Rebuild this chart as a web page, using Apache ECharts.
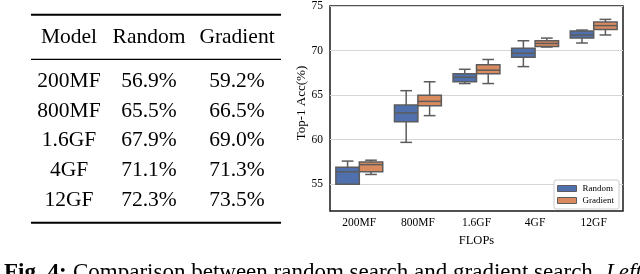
<!DOCTYPE html>
<html><head><meta charset="utf-8">
<script src="https://cdn.jsdelivr.net/npm/echarts@6/dist/echarts.min.js"></script>
<style>html,body{margin:0;padding:0;background:#fff}#c{width:640px;height:274px}</style>
</head><body><div id="c"></div>
<script>
// ---- data ----
const categories = ['200MF', '800MF', '1.6GF', '4GF', '12GF'];
// [min, q1, median, q3, max]
const randomBox = [
  [55.0, 55.0, 56.4, 56.9, 57.6],
  [59.7, 62.0, 63.0, 63.9, 65.5],
  [66.3, 66.5, 67.0, 67.4, 67.9],
  [68.2, 69.25, 69.7, 70.25, 71.1],
  [70.85, 71.4, 71.75, 72.2, 72.3]
];
const gradientBox = [
  [56.1, 56.4, 57.2, 57.5, 57.7],
  [62.7, 63.8, 64.3, 65.0, 66.5],
  [66.3, 67.4, 67.8, 68.4, 69.0],
  [70.4, 70.45, 70.8, 71.1, 71.4],
  [71.75, 72.35, 72.8, 73.2, 73.5]
];
const yTicks = [55, 60, 65, 70, 75];
const seriesNames = ['Random', 'Gradient'];
const tableHeader = ['Model', 'Random', 'Gradient'];
const tableModels = ['200MF', '800MF', '1.6GF', '4GF', '12GF'];
const tableRandom = ['56.9%', '65.5%', '67.9%', '71.1%', '72.3%'];
const tableGradient = ['59.2%', '66.5%', '69.0%', '71.3%', '73.5%'];
const captionBold = 'Fig. 4:';
const captionText = 'Comparison between random search and gradient search.';
const captionItalic = 'Left:';

// ---- style ----
const serif = "'Liberation Serif','Times New Roman',serif";
const colors = ['#4f70ad', '#d98a5e'];
const lineGrey = '#5c5c5c';

const chart = echarts.init(document.getElementById('c'), null, {renderer: 'canvas'});

function makeRender(sign, color) {
  return function (params, api) {
    const idx = api.value(0);
    const band = api.size([1, 0])[0];
    const w = band * 0.4;
    const base = api.coord([idx, api.value(3)]);
    const cx = base[0] + sign * w / 2;
    const yMin = api.coord([idx, api.value(1)])[1];
    const yQ1 = api.coord([idx, api.value(2)])[1];
    const yMed = api.coord([idx, api.value(3)])[1];
    const yQ3 = api.coord([idx, api.value(4)])[1];
    const yMax = api.coord([idx, api.value(5)])[1];
    const ls = {stroke: lineGrey, lineWidth: 1.5};
    return {
      type: 'group',
      children: [
        {type: 'line', shape: {x1: cx, y1: yQ3, x2: cx, y2: yMax}, style: ls},
        {type: 'line', shape: {x1: cx, y1: yQ1, x2: cx, y2: yMin}, style: ls},
        {type: 'line', shape: {x1: cx - w / 4, y1: yMax, x2: cx + w / 4, y2: yMax}, style: ls},
        {type: 'line', shape: {x1: cx - w / 4, y1: yMin, x2: cx + w / 4, y2: yMin}, style: ls},
        {type: 'rect', shape: {x: cx - w / 2, y: yQ3, width: w, height: yQ1 - yQ3},
          style: {fill: color, stroke: lineGrey, lineWidth: 1.5}},
        {type: 'line', shape: {x1: cx - w / 2, y1: yMed, x2: cx + w / 2, y2: yMed}, style: ls}
      ]
    };
  };
}

// ---- table & caption graphics ----
const graphics = [];
const tX1 = 31, tX2 = 281;
graphics.push({type: 'line', shape: {x1: tX1, y1: 14.7, x2: tX2, y2: 14.7}, style: {stroke: '#000', lineWidth: 2}});
graphics.push({type: 'line', shape: {x1: tX1, y1: 59.3, x2: tX2, y2: 59.3}, style: {stroke: '#000', lineWidth: 1.3}});
graphics.push({type: 'line', shape: {x1: tX1, y1: 222.7, x2: tX2, y2: 222.7}, style: {stroke: '#000', lineWidth: 2}});
const colX = [69, 149, 237];
const tFont = '21.5px ' + serif;
tableHeader.forEach((h, i) => {
  graphics.push({type: 'text', x: colX[i], y: 37.7,
    style: {text: h, font: tFont, fill: '#000', align: 'center', verticalAlign: 'middle'}});
});
const rowY0 = 81, rowStep = 29.9;
tableModels.forEach((m, r) => {
  const cells = [m, tableRandom[r], tableGradient[r]];
  cells.forEach((t, i) => {
    graphics.push({type: 'text', x: colX[i], y: rowY0 + r * rowStep,
      style: {text: t, font: tFont, fill: '#000', align: 'center', verticalAlign: 'middle'}});
  });
});
const cFontSize = 23;
const capY = 273;
graphics.push({type: 'text', x: 4, y: capY,
  style: {text: captionBold, font: 'bold ' + cFontSize + 'px ' + serif, fill: '#000', align: 'left', verticalAlign: 'middle'}});
graphics.push({type: 'text', x: 73, y: capY,
  style: {text: captionText, font: cFontSize + 'px ' + serif, fill: '#000', align: 'left', verticalAlign: 'middle'}});
graphics.push({type: 'text', x: 606, y: capY,
  style: {text: captionItalic, font: 'italic ' + cFontSize + 'px ' + serif, fill: '#000', align: 'left', verticalAlign: 'middle'}});

chart.setOption({
  animation: false,
  backgroundColor: '#fff',
  graphic: graphics,
  grid: {left: 330, right: 17, top: 4, bottom: 63, show: true, borderColor: '#1a1a1a', borderWidth: 1.5, backgroundColor: 'transparent'},
  legend: {
    orient: 'vertical', right: 21, bottom: 65,
    data: seriesNames,
    icon: 'rect', itemWidth: 19, itemHeight: 6, itemGap: 3,
    padding: [4, 5, 4, 3],
    itemStyle: {borderColor: lineGrey, borderWidth: 1},
    textStyle: {fontFamily: serif, fontSize: 9, color: '#000', padding: [0, 0, 0, 1]},
    borderColor: '#cccccc', borderWidth: 1, borderRadius: 2, backgroundColor: '#fff'
  },
  xAxis: {
    type: 'category', data: categories,
    name: 'FLOPs', nameLocation: 'middle', nameGap: 18,
    nameTextStyle: {fontFamily: serif, fontSize: 12.5, color: '#000'},
    axisLine: {show: false}, axisTick: {show: false},
    axisLabel: {fontFamily: serif, fontSize: 11.5, color: '#000', margin: 6},
    splitLine: {show: false}
  },
  yAxis: {
    type: 'value', min: 52, max: 75,
    name: 'Top-1 Acc(%)', nameLocation: 'middle', nameGap: 22,
    nameTextStyle: {fontFamily: serif, fontSize: 13, color: '#000', padding: [0, 0, 0, 11]},
    axisLine: {show: false},
    axisTick: {show: false, customValues: yTicks},
    axisLabel: {fontFamily: serif, fontSize: 11.5, color: '#000', margin: 7, customValues: yTicks},
    splitLine: {show: true, lineStyle: {color: '#d6d6d6', width: 1}}
  },
  series: [
    {
      name: seriesNames[0], type: 'custom',
      itemStyle: {color: colors[0]},
      encode: {x: 0, y: [1, 2, 3, 4, 5]},
      renderItem: makeRender(-1, colors[0]),
      data: randomBox.map((d, i) => [i].concat(d))
    },
    {
      name: seriesNames[1], type: 'custom',
      itemStyle: {color: colors[1]},
      encode: {x: 0, y: [1, 2, 3, 4, 5]},
      renderItem: makeRender(1, colors[1]),
      data: gradientBox.map((d, i) => [i].concat(d))
    }
  ]
});
</script>
</body></html>
